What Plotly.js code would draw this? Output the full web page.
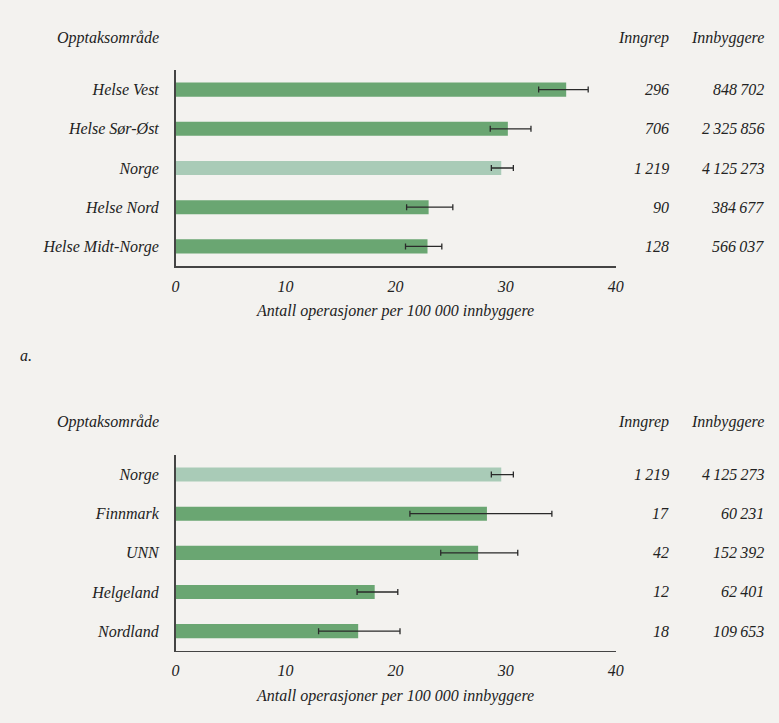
<!DOCTYPE html>
<html>
<head>
<meta charset="utf-8">
<script src="https://cdn.plot.ly/plotly-3.0.1.min.js"></script>
<style>
html,body{margin:0;padding:0;background:#f3f2ef;}
#chart{width:779px;height:723px;}
</style>
</head>
<body>
<div id="chart"></div>
<script>
// Panel A (top)
const catsA = ["Helse Vest", "Helse Sør-Øst", "Norge", "Helse Nord", "Helse Midt-Norge"];
const rateA = [35.5, 30.2, 29.6, 23.0, 22.9];
const lowA = [33.0, 28.6, 28.7, 21.0, 20.9];
const highA = [37.5, 32.3, 30.7, 25.2, 24.2];
const inngrepA = [296, 706, 1219, 90, 128];
const innbyggereA = [848702, 2325856, 4125273, 384677, 566037];

// Panel B (bottom)
const catsB = ["Norge", "Finnmark", "UNN", "Helgeland", "Nordland"];
const rateB = [29.6, 28.3, 27.5, 18.1, 16.6];
const lowB = [28.7, 21.3, 24.1, 16.5, 13.0];
const highB = [30.7, 34.2, 31.1, 20.2, 20.4];
const inngrepB = [1219, 17, 42, 12, 18];
const innbyggereB = [4125273, 60231, 152392, 62401, 109653];

const xTicks = [0, 10, 20, 30, 40];
const xTitle = "Antall operasjoner per 100 000 innbyggere";
const headCat = "Opptaksområde";
const headInngrep = "Inngrep";
const headInnbyggere = "Innbyggere";
const panelLabel = "a.";

const FONT = "'Liberation Serif', 'Times New Roman', serif";
const TXT = "#222222";
const DARK = "#6aa672";
const LIGHT = "#a9cbb7";
const BG = "#f3f2ef";
const W = 779, H = 723;
const FS = 16;

function fmt(n) {
  return String(n).replace(/\B(?=(\d{3})+(?!\d))/g, "\u2009");
}
function italic(s) { return "<i>" + s + "</i>"; }

function barTrace(cats, vals, lows, highs, xa, ya) {
  return {
    type: "bar", orientation: "h",
    y: cats, x: vals,
    xaxis: xa, yaxis: ya,
    width: 0.36,
    marker: {color: cats.map(c => c === "Norge" ? LIGHT : DARK)},
    error_x: {
      type: "data", symmetric: false,
      array: vals.map((v, i) => highs[i] - v),
      arrayminus: vals.map((v, i) => v - lows[i]),
      color: "#2a2a2a", thickness: 1.3, width: 3
    },
    hoverinfo: "x+y", showlegend: false
  };
}

const traces = [
  barTrace(catsA, rateA, lowA, highA, "x", "y"),
  barTrace(catsB, rateB, lowB, highB, "x2", "y2")
];

const xDom = [175.5 / W, 615.7 / W];
const yDomA = [(H - 266) / H, (H - 70) / H];
const yDomB = [(H - 650.7) / H, (H - 455) / H];

function xAxis(anchor) {
  return {
    domain: xDom, anchor: anchor, range: [0, 40],
    tickvals: xTicks, ticktext: xTicks.map(v => italic(String(v))),
    showgrid: false, zeroline: false, showline: true,
    linecolor: "#444", linewidth: 1.5, ticks: "",
    ticklabelstandoff: 5,
    tickfont: {family: FONT, size: FS, color: TXT},
    title: {text: italic(xTitle), font: {family: FONT, size: FS, color: TXT}, standoff: 11},
    fixedrange: true
  };
}
function yAxis(anchor, dom, cats) {
  return {
    domain: dom, anchor: anchor, type: "category",
    categoryorder: "array", categoryarray: cats,
    range: [4.5, -0.5],
    tickvals: cats, ticktext: cats.map(italic),
    showgrid: false, zeroline: false, showline: true,
    linecolor: "#444", linewidth: 1.5, ticks: "",
    ticklabelstandoff: 12,
    tickfont: {family: FONT, size: FS, color: TXT},
    fixedrange: true
  };
}

const annotations = [];
function addColumns(cats, inngrep, innbyggere, yref, headY) {
  const fnt = {family: FONT, size: FS, color: TXT};
  annotations.push({xref: "paper", yref: "paper", x: 161 / W, y: headY, xanchor: "right", yanchor: "middle",
    text: italic(headCat), showarrow: false, font: fnt});
  annotations.push({xref: "paper", yref: "paper", x: 671 / W, y: headY, xanchor: "right", yanchor: "middle",
    text: italic(headInngrep), showarrow: false, font: fnt});
  annotations.push({xref: "paper", yref: "paper", x: 766 / W, y: headY, xanchor: "right", yanchor: "middle",
    text: italic(headInnbyggere), showarrow: false, font: fnt});
  cats.forEach((c, i) => {
    annotations.push({xref: "paper", yref: yref, x: 671 / W, y: c, xanchor: "right", yanchor: "middle",
      text: italic(fmt(inngrep[i])), showarrow: false, font: fnt});
    annotations.push({xref: "paper", yref: yref, x: 766 / W, y: c, xanchor: "right", yanchor: "middle",
      text: italic(fmt(innbyggere[i])), showarrow: false, font: fnt});
  });
}
addColumns(catsA, inngrepA, innbyggereA, "y", (H - 38) / H);
addColumns(catsB, inngrepB, innbyggereB, "y2", (H - 422) / H);
annotations.push({xref: "paper", yref: "paper", x: 18 / W, y: (H - 355) / H, xanchor: "left", yanchor: "middle",
  text: italic(panelLabel), showarrow: false, font: {family: FONT, size: FS, color: TXT}});

const layout = {
  width: W, height: H,
  margin: {l: 0, r: 0, t: 0, b: 0},
  paper_bgcolor: BG, plot_bgcolor: BG,
  font: {family: FONT, color: TXT},
  xaxis: xAxis("y"), yaxis: yAxis("x", yDomA, catsA),
  xaxis2: xAxis("y2"), yaxis2: yAxis("x2", yDomB, catsB),
  annotations: annotations,
  showlegend: false
};

Plotly.newPlot("chart", traces, layout, {displayModeBar: false, staticPlot: true});
</script>
</body>
</html>
